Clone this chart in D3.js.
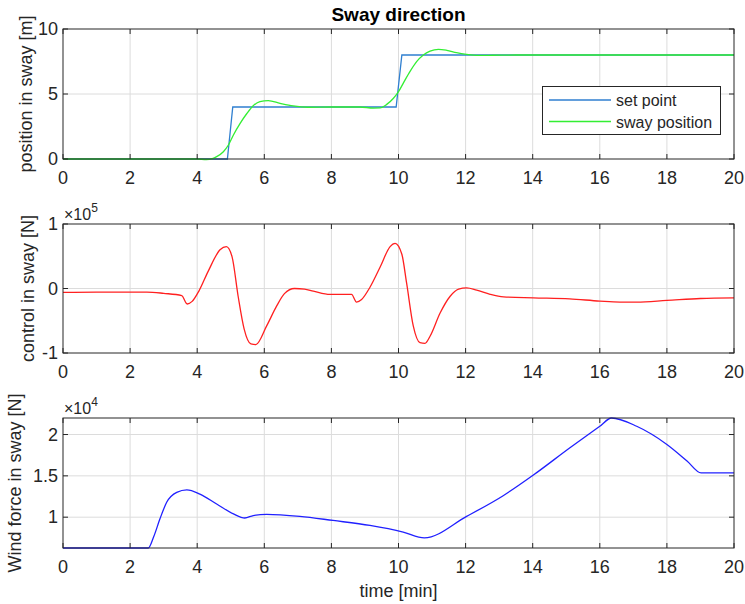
<!DOCTYPE html>
<meta charset="utf-8">
<head>
    <script type="text/javascript" src="https://cdn.jsdelivr.net/npm/d3@7/dist/d3.min.js"></script>
    <style>
        body { margin: 0; background: #fff; }
        text { font-family: "Liberation Sans", Arial, sans-serif; fill: #262626; }
        .grid line { stroke: #dcdcdc; stroke-width: 1; }
    </style>
</head>
<body>
<div id="chart"></div>
<script>
    // set point (step) in sway [m]
    var setTime = [0, 4.9, 5.06, 9.93, 10.1, 20];
    var setPoint = [0, 0, 4, 4, 8, 8];

    // measured sway position [m]
    var posTime = [0, 3.5, 4.0, 4.27, 4.45, 4.58, 4.78, 4.93, 5.08, 5.28, 5.48, 5.67, 5.87, 6.12, 6.47, 6.86, 7.3, 8.0,
        8.85, 9.25, 9.45, 9.65, 9.85, 10.0, 10.14, 10.34, 10.54, 10.74, 10.94, 11.19, 11.44, 11.73, 12.03, 12.33, 12.8, 13.5, 20];
    var swayPos = [0, 0, 0, -0.04, 0.03, 0.18, 0.56, 1.08, 1.85, 2.74, 3.5, 4.1, 4.41, 4.49, 4.28, 4.08, 3.98, 4.0,
        4.0, 3.92, 3.93, 4.2, 4.67, 5.18, 5.82, 6.72, 7.49, 8.0, 8.3, 8.44, 8.36, 8.18, 8.05, 7.97, 7.98, 8.0, 8.0];

    // control force in sway, x 10^5 N
    var ctrlTime = [0, 1.0, 2.5, 3.0, 3.54, 3.7, 3.85, 4.05, 4.33, 4.68, 4.87, 5.04, 5.22, 5.4, 5.6, 5.75, 6.07, 6.37, 6.6,
        6.9, 7.2, 7.46, 7.96, 8.6, 8.75, 8.9, 9.15, 9.45, 9.75, 9.9, 10.1, 10.24, 10.44, 10.64, 10.79, 10.94, 11.24, 11.54,
        11.79, 12.03, 12.33, 12.73, 13.13, 14.02, 15.1, 16.0, 16.6, 17.1, 18.0, 19.0, 20];
    var ctrlForce = [-0.06, -0.055, -0.055, -0.075, -0.11, -0.24, -0.2, -0.04, 0.27, 0.6, 0.65, 0.49, -0.12, -0.63, -0.86,
        -0.87, -0.58, -0.27, -0.08, 0.0, -0.01, -0.04, -0.09, -0.09, -0.21, -0.17, 0.02, 0.33, 0.65, 0.7, 0.53, 0.09, -0.58,
        -0.84, -0.85, -0.74, -0.38, -0.12, -0.01, 0.01, -0.025, -0.09, -0.13, -0.145, -0.16, -0.195, -0.21, -0.21, -0.185,
        -0.155, -0.145];

    // wind force in sway, x 10^4 N
    var windTime = [0, 2.54, 2.7, 2.89, 3.09, 3.39, 3.69, 4.08, 4.58, 5.08, 5.42, 5.67, 6.07, 7.06, 8.05, 9.15, 10.14,
        10.77, 12.03, 13.12, 14.02, 15.11, 16.0, 16.35, 17.1, 18.0, 18.6, 19.02, 20];
    var windForce = [0.627, 0.627, 0.76, 0.98, 1.18, 1.30, 1.33, 1.28, 1.16, 1.04, 0.99, 1.02, 1.035, 1.01, 0.96, 0.90,
        0.82, 0.75, 1.01, 1.26, 1.51, 1.84, 2.10, 2.2, 2.10, 1.88, 1.68, 1.535, 1.535];

    var xTicks = [0, 2, 4, 6, 8, 10, 12, 14, 16, 18, 20];

    var w = 745;
    var h = 604;
    var left = 63, right = 734;
    var fs = "18px";

    var svg = d3.select("#chart").append("svg").attr("width", w).attr("height", h);

    var x = d3.scaleLinear().domain([0, 20]).range([left, right]);

    // panels
    var panels = [
        {top: 29, bottom: 159, domain: [0, 10], ticks: [0, 5, 10], label: "position in sway [m]", labelX: 32},
        {top: 224, bottom: 353, domain: [-1, 1], ticks: [-1, 0, 1], label: "control in sway [N]", labelX: 34, exp: "5"},
        {top: 418, bottom: 548, domain: [0.627, 2.2], ticks: [1, 1.5, 2], label: "Wind force in sway [N]", labelX: 21, exp: "4"}
    ];

    panels.forEach(p => {
        p.y = d3.scaleLinear().domain(p.domain).range([p.bottom, p.top]);
        var g = svg.append("g");

        // grid
        var grid = g.append("g").attr("class", "grid");
        grid.selectAll(".gx").data(xTicks.slice(1, -1)).enter().append("line")
            .attr("x1", d => x(d)).attr("x2", d => x(d)).attr("y1", p.top).attr("y2", p.bottom);
        grid.selectAll(".gy").data(p.ticks.filter(t => p.y(t) > p.top + 1 && p.y(t) < p.bottom - 1)).enter().append("line")
            .attr("x1", left).attr("x2", right).attr("y1", d => p.y(d)).attr("y2", d => p.y(d));

        p.g = g;
    });

    function drawAxes(p) {
        var g = svg.append("g");
        var tl = 5;
        var tick = g.append("g").attr("stroke", "#262626").attr("stroke-width", 1);
        xTicks.forEach(t => {
            tick.append("line").attr("x1", x(t)).attr("x2", x(t)).attr("y1", p.bottom).attr("y2", p.bottom - tl);
            tick.append("line").attr("x1", x(t)).attr("x2", x(t)).attr("y1", p.top).attr("y2", p.top + tl);
        });
        p.ticks.forEach(t => {
            tick.append("line").attr("x1", left).attr("x2", left + tl).attr("y1", p.y(t)).attr("y2", p.y(t));
            tick.append("line").attr("x1", right).attr("x2", right - tl).attr("y1", p.y(t)).attr("y2", p.y(t));
        });
        g.append("rect").attr("x", left).attr("y", p.top).attr("width", right - left).attr("height", p.bottom - p.top)
            .attr("fill", "none").attr("stroke", "#262626").attr("stroke-width", 1);

        g.selectAll(".xt").data(xTicks).enter().append("text")
            .attr("x", d => x(d)).attr("y", p.bottom + 25)
            .attr("text-anchor", "middle").style("font-size", fs).text(d => d);
        g.selectAll(".yt").data(p.ticks).enter().append("text")
            .attr("x", left - 5).attr("y", d => p.y(d) + 6)
            .attr("text-anchor", "end").style("font-size", fs).text(d => d);

        g.append("text")
            .attr("transform", "translate(" + p.labelX + "," + ((p.top + p.bottom) / 2) + ") rotate(-90)")
            .attr("text-anchor", "middle").style("font-size", fs).text(p.label);

        if (p.exp) {
            var e = g.append("text").attr("x", left + 1).attr("y", p.top - 4).style("font-size", "16px");
            e.append("tspan").text("\u00d710");
            e.append("tspan").attr("dy", -8).style("font-size", "12px").text(p.exp);
        }
    }

    function plot(p, ts, vs, color, curve) {
        var line = d3.line().x(d => x(d[0])).y(d => p.y(d[1])).curve(curve);
        p.g.append("path").datum(d3.zip(ts, vs))
            .attr("fill", "none").attr("stroke", color).attr("stroke-width", 1.3)
            .attr("d", line);
    }

    plot(panels[0], setTime, setPoint, "#2f7fd0", d3.curveLinear);
    plot(panels[0], posTime, swayPos, "#33ee33", d3.curveMonotoneX);
    plot(panels[1], ctrlTime, ctrlForce, "#ff2020", d3.curveMonotoneX);
    plot(panels[2], windTime, windForce, "#2020ff", d3.curveMonotoneX);

    panels.forEach(drawAxes);

    // title and x label
    svg.append("text").attr("x", (left + right) / 2).attr("y", 21).attr("text-anchor", "middle")
        .style("font-size", "19px").style("font-weight", "bold").style("fill", "#000").text("Sway direction");
    svg.append("text").attr("x", (left + right) / 2).attr("y", 597).attr("text-anchor", "middle")
        .style("font-size", fs).text("time [min]");

    // legend
    var leg = svg.append("g");
    leg.append("rect").attr("x", 542.5).attr("y", 86.5).attr("width", 178).attr("height", 48)
        .attr("fill", "#fff").attr("stroke", "#262626").attr("stroke-width", 1);
    var items = [["set point", "#2f7fd0"], ["sway position", "#33ee33"]];
    items.forEach((it, i) => {
        var yy = 100 + i * 21.5;
        leg.append("line").attr("x1", 549).attr("x2", 611).attr("y1", yy).attr("y2", yy)
            .attr("stroke", it[1]).attr("stroke-width", 1.3);
        leg.append("text").attr("x", 616).attr("y", yy + 6).style("font-size", "16px").text(it[0]);
    });
</script>
</body>
